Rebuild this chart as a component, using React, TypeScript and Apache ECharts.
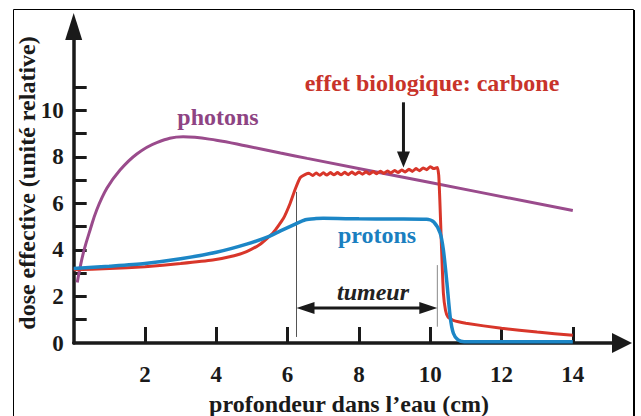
import React, { useEffect, useRef } from "react";
import * as echarts from "echarts";

// ---- data ----
const photonsDepth = [0.1, 0.2, 0.3, 0.46, 0.64, 0.93, 1.3, 1.77, 2.33, 3.07, 4.0, 4.85, 5.8, 6.55, 10, 14];
const photonsDose = [2.6, 3.4, 4.05, 4.86, 5.7, 6.65, 7.44, 8.13, 8.62, 8.87, 8.72, 8.47, 8.17, 7.94, 6.9, 5.7];

const protonsDepth = [0, 1, 2, 3, 4, 4.85, 5.5, 5.8, 6.2, 6.5, 6.8, 7, 8, 9, 9.9, 10.1, 10.28, 10.37, 10.47, 10.56, 10.65, 10.78, 10.95, 12, 14];
const protonsDose = [3.2, 3.3, 3.42, 3.62, 3.9, 4.25, 4.6, 4.82, 5.1, 5.3, 5.35, 5.36, 5.34, 5.33, 5.32, 5.2, 4.72, 4.0, 2.57, 1.13, 0.42, 0.13, 0.05, 0.05, 0.05];

const carbonDepth = [
  0, 1, 2, 3, 3.9, 4.5, 4.85, 5.23, 5.6, 5.88, 6.07, 6.21, 6.35, 6.5,
  6.6, 6.7, 6.8, 6.9, 7.0, 7.1, 7.2, 7.3, 7.4, 7.5, 7.6, 7.7, 7.8, 7.9, 8.0, 8.1, 8.2, 8.3, 8.4, 8.5,
  8.6, 8.7, 8.8, 8.9, 9.0, 9.1, 9.2, 9.3, 9.4, 9.5, 9.6, 9.7, 9.8, 9.9, 10.0, 10.1, 10.2,
  10.24, 10.27, 10.32, 10.37, 10.43, 10.5, 10.65, 11, 12, 13, 14,
];
const carbonDose = [
  3.15, 3.2, 3.28, 3.42, 3.57, 3.75, 3.93, 4.25, 4.75, 5.35, 6.0, 6.6, 7.1, 7.25,
  7.3, 7.2, 7.31, 7.21, 7.32, 7.22, 7.33, 7.23, 7.33, 7.23, 7.34, 7.24, 7.35, 7.25, 7.35, 7.26, 7.36, 7.27, 7.37, 7.28,
  7.39, 7.29, 7.4, 7.31, 7.42, 7.33, 7.44, 7.35, 7.47, 7.38, 7.5, 7.41, 7.53, 7.45, 7.58, 7.5, 7.55,
  7.2, 6.15, 4.0, 2.14, 1.4, 1.12, 0.97, 0.85, 0.63, 0.47, 0.33,
];

const xTicks = [2, 4, 6, 8, 10, 12, 14];
const yTicks = [1, 2, 3, 4, 5, 6, 7, 8, 9, 10, 11];
const yLabels = [0, 2, 4, 6, 8, 10];

// annotations (data coordinates)
const tumorStart = 6.25;
const tumorEnd = 10.2;
const tumorLeftTop = 6.5;
const tumorRightTop = 3.35;
const tumorLineBottom = 0.26;
const tumorRightBottom = 0.7;
const tumorArrowDose = 1.5;
const carbonArrowDepth = 9.25;
const carbonArrowTopDose = 10.35;
const carbonArrowTipDose = 7.55;

const FONT = "Liberation Serif";
const PURPLE = "#9a4b8c";
const RED = "#d8362a";
const BLUE = "#1c86c6";
const INK = "#1a1a1a";

const zip = (xs: number[], ys: number[]) => xs.map((x, i) => [x, ys[i]]);

export default function App() {
  const ref = useRef<HTMLDivElement>(null);

  useEffect(() => {
    if (!ref.current) return;
    const chart = echarts.init(ref.current, undefined, { renderer: "svg" });
    chart.setOption({
      animation: false,
      backgroundColor: "#ffffff",
      grid: { left: 73.7, top: 26.5, width: 548.3, height: 316.5, containLabel: false },
      xAxis: {
        type: "value",
        min: 0,
        max: 15.38,
        splitLine: { show: false },
        axisLine: {
          show: true,
          onZero: false,
          symbol: ["none", "triangle"],
          symbolSize: [20, 20],
          lineStyle: { color: INK, width: 3.5 },
        },
        axisTick: {
          show: true,
          inside: true,
          length: 16,
          customValues: xTicks,
          lineStyle: { color: INK, width: 3 },
        },
        axisLabel: {
          show: true,
          customValues: xTicks,
          margin: 20,
          fontFamily: FONT,
          fontWeight: "bold",
          fontSize: 23,
          color: INK,
        },
      },
      yAxis: {
        type: "value",
        min: 0,
        max: 13.61,
        splitLine: { show: false },
        axisLine: {
          show: true,
          onZero: false,
          symbol: ["none", "triangle"],
          symbolSize: [17, 27],
          lineStyle: { color: INK, width: 3.5 },
        },
        axisTick: {
          show: true,
          inside: true,
          length: 13,
          customValues: yTicks,
          lineStyle: { color: INK, width: 3 },
        },
        axisLabel: {
          show: true,
          customValues: yLabels,
          margin: 10,
          fontFamily: FONT,
          fontWeight: "bold",
          fontSize: 23,
          color: INK,
        },
      },
      series: [
        {
          type: "line",
          data: zip(photonsDepth, photonsDose),
          smooth: 0.4,
          showSymbol: false,
          lineStyle: { color: PURPLE, width: 3 },
          z: 3,
        },
        {
          type: "line",
          data: zip(carbonDepth, carbonDose),
          smooth: 0.15,
          showSymbol: false,
          lineStyle: { color: RED, width: 3 },
          z: 4,
        },
        {
          type: "line",
          data: zip(protonsDepth, protonsDose),
          smooth: 0.25,
          showSymbol: false,
          lineStyle: { color: BLUE, width: 3.5 },
          z: 5,
        },
      ],
    });

    const p = (x: number, y: number) => chart.convertToPixel({ gridIndex: 0 }, [x, y]) as number[];
    const a1 = p(tumorStart, tumorArrowDose);
    const a2 = p(tumorEnd, tumorArrowDose);
    const l1t = p(tumorStart, tumorLeftTop);
    const l1b = p(tumorStart, tumorLineBottom);
    const l2t = p(tumorEnd, tumorRightTop);
    const l2b = p(tumorEnd, tumorRightBottom);
    const c1 = p(carbonArrowDepth, carbonArrowTopDose);
    const c2 = p(carbonArrowDepth, carbonArrowTipDose);
    const ay = a1[1];
    const head = 18;
    const hw = 6;

    const txt = (x: number, y: number, text: string, fill: string, italic = false, rotation = 0) => ({
      type: "text",
      x,
      y,
      rotation,
      style: {
        text,
        fill,
        fontFamily: FONT,
        fontSize: 24,
        fontWeight: "bold",
        fontStyle: italic ? "italic" : "normal",
        align: "center",
        verticalAlign: "middle",
      },
    });

    chart.setOption({
      graphic: [
        {
          type: "rect",
          shape: { x: 13.5, y: 9.5, width: 620, height: 430 },
          style: { fill: "none", stroke: "#000", lineWidth: 1 },
          silent: true,
        },
        {
          type: "line",
          shape: { x1: 634, y1: 10, x2: 634, y2: 416 },
          style: { stroke: "#000", lineWidth: 2 },
        },
        // tumour limits
        { type: "line", shape: { x1: l1t[0], y1: l1t[1], x2: l1b[0], y2: l1b[1] }, style: { stroke: "#555", lineWidth: 1 } },
        { type: "line", shape: { x1: l2t[0], y1: l2t[1], x2: l2b[0], y2: l2b[1] }, style: { stroke: "#888", lineWidth: 1 } },
        // double arrow
        { type: "line", shape: { x1: a1[0] + head - 2, y1: ay, x2: a2[0] - head + 2, y2: ay }, style: { stroke: INK, lineWidth: 3 } },
        { type: "polygon", shape: { points: [[a1[0], ay], [a1[0] + head, ay - hw], [a1[0] + head, ay + hw]] }, style: { fill: INK } },
        { type: "polygon", shape: { points: [[a2[0], ay], [a2[0] - head, ay - hw], [a2[0] - head, ay + hw]] }, style: { fill: INK } },
        // carbon arrow
        { type: "line", shape: { x1: c1[0], y1: c1[1], x2: c2[0], y2: c2[1] - 14 }, style: { stroke: INK, lineWidth: 3 } },
        { type: "polygon", shape: { points: [[c2[0], c2[1]], [c2[0] - 6.5, c2[1] - 16], [c2[0] + 6.5, c2[1] - 16]] }, style: { fill: INK } },
        // labels
        txt(218, 117, "photons", "#8e4483"),
        txt(432, 83, "effet biologique: carbone", "#c8332a"),
        txt(377, 235, "protons", "#1a7fc0"),
        txt(373, 292, "tumeur", "#222", true),
        txt(349, 404, "profondeur dans l\u2019eau (cm)", INK),
        txt(27, 183, "dose effective (unité relative)", INK, false, Math.PI / 2),
      ],
    });

    return () => chart.dispose();
  }, []);

  return (
    <div
      ref={ref}
      style={{ position: "fixed", left: 0, top: 0, width: 641, height: 416, background: "#fff" }}
    />
  );
}
